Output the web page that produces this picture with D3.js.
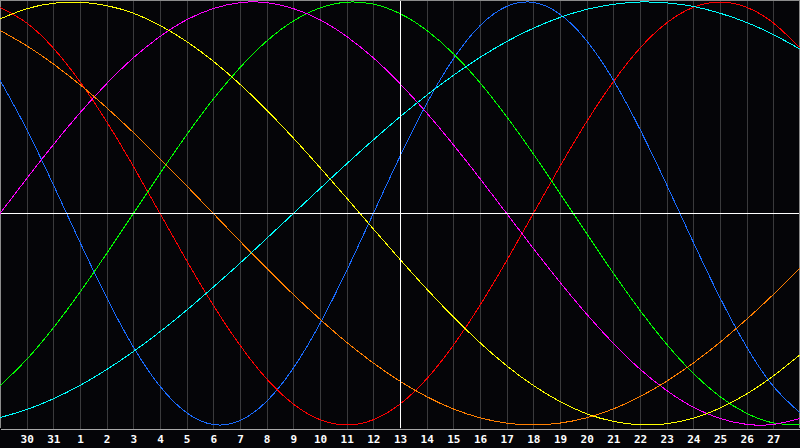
<!DOCTYPE html>
<html>
<head>
<meta charset="utf-8">
<script src="https://cdn.jsdelivr.net/npm/d3@7"></script>
<style>
  html, body { margin: 0; padding: 0; background: #050508; }
  svg { display: block; }
</style>
</head>
<body>
<svg id="chart" width="800" height="448"></svg>
<script>
// Day labels at the grid lines (grid index 1..29)
const dayLabels = [30, 31, 1, 2, 3, 4, 5, 6, 7, 8, 9, 10, 11, 12, 13, 14, 15, 16, 17, 18, 19, 20, 21, 22, 23, 24, 25, 26, 27];
const todayIndex = 15; // "13"

// Values for each day 0..30 (one value per grid position)
const cycle23 = [0.631, 0.398, 0.136, -0.136, -0.398, -0.631, -0.817, -0.942, -0.998, -0.979, -0.888, -0.731, -0.520, -0.270,
  0, 0.270, 0.520, 0.731, 0.888, 0.979, 0.998, 0.942, 0.817, 0.631, 0.398, 0.136, -0.136, -0.398, -0.631, -0.817, -0.942];
const cycle28 = [0.975, 0.901, 0.782, 0.623, 0.434, 0.223, 0, -0.223, -0.434, -0.623, -0.782, -0.901, -0.975, -1.000,
  -0.975, -0.901, -0.782, -0.623, -0.434, -0.223, 0, 0.223, 0.434, 0.623, 0.782, 0.901, 0.975, 1.000, 0.975, 0.901, 0.782];
const cycle33 = [-0.815, -0.690, -0.541, -0.372, -0.189, 0, 0.189, 0.372, 0.541, 0.690, 0.815, 0.910, 0.972, 0.999, 0.990,
  0.945, 0.866, 0.756, 0.618, 0.458, 0.282, 0.095, -0.095, -0.282, -0.458, -0.618, -0.756, -0.866, -0.945, -0.990, -0.999];
const cycle38 = [0, 0.165, 0.325, 0.476, 0.614, 0.736, 0.837, 0.916, 0.969, 0.997, 0.997, 0.969, 0.916, 0.837, 0.736, 0.614,
  0.476, 0.325, 0.165, 0, -0.165, -0.325, -0.476, -0.614, -0.736, -0.837, -0.916, -0.969, -0.997, -0.997, -0.969];
const cycle43 = [0.920, 0.968, 0.994, 0.999, 0.983, 0.947, 0.889, 0.813, 0.720, 0.611, 0.489, 0.357, 0.217, 0.073, -0.073,
  -0.217, -0.357, -0.489, -0.611, -0.720, -0.813, -0.889, -0.947, -0.983, -0.999, -0.994, -0.968, -0.920, -0.853, -0.768, -0.668];
const cycle48 = [0.866, 0.793, 0.707, 0.609, 0.500, 0.383, 0.259, 0.131, 0, -0.131, -0.259, -0.383, -0.500, -0.609, -0.707,
  -0.793, -0.866, -0.924, -0.966, -0.991, -1.000, -0.991, -0.966, -0.924, -0.866, -0.793, -0.707, -0.609, -0.500, -0.383, -0.259];
const cycle53 = [-0.965, -0.927, -0.876, -0.813, -0.738, -0.653, -0.559, -0.457, -0.348, -0.235, -0.118, 0, 0.118, 0.235,
  0.348, 0.457, 0.559, 0.653, 0.738, 0.813, 0.876, 0.927, 0.965, 0.989, 1.000, 0.996, 0.979, 0.947, 0.903, 0.846, 0.777];

const seriesNames = ["23", "28", "33", "38", "43", "48", "53"];
const seriesValues = [cycle23, cycle28, cycle33, cycle38, cycle43, cycle48, cycle53];
const seriesColors = ["#1a6cff", "#ff0000", "#00ff00", "#ff00ff", "#ffff00", "#ff7f00", "#00ffff"];

const W = 800, H = 448;
const plotBottom = 428;
const svg = d3.select("#chart");

svg.append("rect").attr("x", 0).attr("y", 0).attr("width", W).attr("height", H).attr("fill", "#050508");

const x = d3.scaleLinear().domain([0, 30]).range([0, 800]);
const y = d3.scaleLinear().domain([-1, 1]).range([425, 2]);

// Grid + bottom axis
const axis = d3.axisBottom(x)
  .tickValues(d3.range(1, 30))
  .tickFormat((d, i) => dayLabels[i])
  .tickSizeInner(-plotBottom)
  .tickSizeOuter(0)
  .tickPadding(7);

const ax = svg.append("g")
  .attr("transform", `translate(0,${plotBottom + 0.5})`)
  .call(axis);
ax.select(".domain").attr("stroke", "#a8a8a8").attr("stroke-width", 1).attr("shape-rendering", "crispEdges");
ax.selectAll(".tick line").attr("stroke", "#3a3a3c").attr("stroke-width", 1).attr("shape-rendering", "crispEdges");
ax.selectAll(".tick text")
  .attr("fill", "#ffffff")
  .attr("font-family", "'DejaVu Sans Mono', monospace")
  .attr("font-weight", "bold")
  .attr("font-size", "11px");

// Frame
svg.append("path")
  .attr("d", `M0.5,${plotBottom} V0.5 H799.5 V${plotBottom}`)
  .attr("fill", "none")
  .attr("stroke", "#8c8c8c")
  .attr("shape-rendering", "crispEdges");

// Curves
const line = d3.line()
  .x((d, i) => x(i))
  .y(d => y(d))
  .curve(d3.curveNatural);

svg.append("g")
  .selectAll("path")
  .data(seriesValues)
  .join("path")
  .attr("d", d => line(d))
  .attr("fill", "none")
  .attr("stroke", (d, i) => seriesColors[i])
  .attr("stroke-width", 1)
  .attr("shape-rendering", "crispEdges");

// Zero line and today line
svg.append("line")
  .attr("x1", 1).attr("x2", 799)
  .attr("y1", Math.floor(y(0)) + 0.5).attr("y2", Math.floor(y(0)) + 0.5)
  .attr("stroke", "#ffffff").attr("shape-rendering", "crispEdges");
svg.append("line")
  .attr("x1", Math.round(x(todayIndex)) + 0.5).attr("x2", Math.round(x(todayIndex)) + 0.5)
  .attr("y1", 1).attr("y2", plotBottom)
  .attr("stroke", "#ffffff").attr("shape-rendering", "crispEdges");
</script>
</body>
</html>
